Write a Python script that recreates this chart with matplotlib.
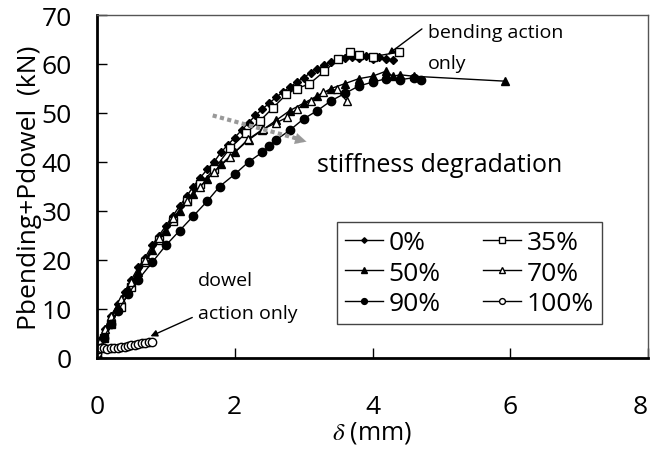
import matplotlib.pyplot as plt

# load-displacement data (delta in mm, P in kN)
d_0 = [0.0, 0.03, 0.07, 0.12, 0.2, 0.3, 0.4, 0.5, 0.6, 0.7, 0.8, 0.9, 1.0, 1.1, 1.2, 1.3, 1.4, 1.5,
       1.6, 1.7, 1.8, 1.9, 2.0, 2.1, 2.2, 2.3, 2.4, 2.5, 2.6, 2.7, 2.8, 2.9, 3.0, 3.1, 3.2, 3.3,
       3.4, 3.5, 3.6, 3.7, 3.8, 3.9, 4.0, 4.1, 4.2, 4.3]
p_0 = [0.5, 2, 4, 6, 8.5, 11, 13.5, 16, 18.5, 20.5, 23, 25, 27, 29, 31, 33, 35, 36.8,
       38.5, 40, 42, 43.5, 45, 46.5, 48, 49.5, 50.8, 52, 53.2, 54.3, 55.3, 56.3, 57.2, 58.2, 59, 59.8,
       60.5, 61, 61.3, 61.5, 61.3, 61.6, 61, 61.5, 61, 60.8]

d_35 = [0.0, 0.1, 0.2, 0.35, 0.5, 0.7, 0.9, 1.1, 1.3, 1.5, 1.7, 1.93, 2.17, 2.36, 2.55, 2.75, 2.9,
        3.08, 3.3, 3.5, 3.68, 3.8, 4.0, 4.38]
p_35 = [1, 4, 7, 10.5, 14.5, 19.5, 24, 28, 32, 35.5, 38.5, 42.8, 46, 48.3, 51, 53.8, 55,
        55.9, 58.5, 61, 62.4, 61.8, 61.5, 62.4]

d_50 = [0.0, 0.05, 0.1, 0.2, 0.3, 0.45, 0.6, 0.8, 1.0, 1.2, 1.4, 1.6, 1.8, 2.0, 2.2, 2.4, 2.6,
        2.8, 3.0, 3.2, 3.4, 3.6, 3.8, 4.0, 4.19, 4.3, 4.4, 4.6, 5.92]
p_50 = [0.5, 3, 5, 8, 10.5, 14, 17.5, 22, 26, 30, 33.5, 36.5, 39.5, 42, 44.5, 46.5, 48.5,
        50.5, 52, 53.5, 55, 56, 57, 57.5, 58.5, 57.5, 57.8, 57.5, 56.5]

d_70 = [0.0, 0.05, 0.12, 0.2, 0.35, 0.5, 0.7, 0.9, 1.1, 1.3, 1.5, 1.7, 1.93, 2.19, 2.41, 2.6,
        2.76, 2.9, 3.1, 3.28, 3.48, 3.63]
p_70 = [1, 3.5, 6, 8.5, 12, 15.5, 20, 24.5, 28.5, 32, 35, 38, 41, 44.6, 46.7, 48,
        49.1, 50.8, 52.5, 54.2, 54.8, 52.4]

d_90 = [0.0, 0.05, 0.1, 0.2, 0.3, 0.45, 0.6, 0.8, 1.0, 1.2, 1.4, 1.6, 1.78, 2.0, 2.2, 2.4, 2.5,
        2.6, 2.8, 3.0, 3.2, 3.4, 3.6, 3.8, 4.0, 4.2, 4.4, 4.6, 4.7]
p_90 = [0.3, 2, 4, 7, 9.5, 13, 16, 19.5, 23, 26, 29, 32, 35, 37.5, 40, 42, 43.2,
        44.5, 46.5, 48.8, 50.5, 52.5, 54, 55.5, 56.3, 57, 56.8, 57.2, 56.8]

d_100 = [0.0, 0.02, 0.06, 0.1, 0.15, 0.2, 0.25, 0.3, 0.35, 0.4, 0.45, 0.5, 0.55, 0.6, 0.65, 0.7, 0.75, 0.8]
p_100 = [1.0, 1.8, 2.0, 2.0, 1.9, 2.0, 2.0, 2.1, 2.2, 2.3, 2.4, 2.6, 2.7, 2.9, 3.0, 3.1, 3.2, 3.3]

plt.rcParams['font.family'] = ['Open Sans', 'DejaVu Sans']
plt.rcParams['mathtext.fontset'] = 'stix'

fig = plt.figure(figsize=(6.53, 4.52), dpi=100)
ax = fig.add_axes([97 / 653, 1 - 359 / 452, 551 / 653, 343 / 452])

ms = 5
l0, = ax.plot(d_0, p_0, '-', color='k', lw=1, marker='D', ms=ms - 1, mfc='k', mec='k', label='0%')
l35, = ax.plot(d_35, p_35, '-', color='k', lw=1, marker='s', ms=ms + 1, mfc='white', mec='k', label='35%')
l50, = ax.plot(d_50, p_50, '-', color='k', lw=1, marker='^', ms=ms + 1, mfc='k', mec='k', label='50%')
l70, = ax.plot(d_70, p_70, '-', color='k', lw=1, marker='^', ms=ms + 1, mfc='white', mec='k', label='70%')
l90, = ax.plot(d_90, p_90, '-', color='k', lw=1, marker='o', ms=ms + 1, mfc='k', mec='k', label='90%')
l100, = ax.plot(d_100, p_100, '-', color='k', lw=1, marker='o', ms=ms + 1, mfc='white', mec='k', label='100%')

ax.set_xlim(0, 8)
ax.set_ylim(0, 70)
ax.set_xticks([0, 2, 4, 6, 8])
ax.set_yticks(range(0, 71, 10))
ax.tick_params(direction='in', length=7, width=1, labelsize=19)
ax.tick_params(axis='x', pad=26)
ax.tick_params(axis='y', pad=18)
ax.get_xticklabels()[-1].set_ha('right')
for s in ['left', 'bottom']:
    ax.spines[s].set_linewidth(2)
for s in ['top', 'right']:
    ax.spines[s].set_linewidth(1)
    ax.spines[s].set_color('#555555')

ax.set_xlabel(r'$\delta$ (mm)', fontsize=18, labelpad=0)
ax.set_ylabel('Pbending+Pdowel  (kN)', fontsize=19, labelpad=0)

leg = ax.legend([l0, l50, l90, l35, l70, l100], ['0%', '50%', '90%', '35%', '70%', '100%'],
                ncol=2, loc='lower right', bbox_to_anchor=(0.94, 0.061), fontsize=19,
                frameon=True, fancybox=False, edgecolor='#444444', framealpha=1,
                handlelength=1.45, handletextpad=0.2, columnspacing=1.6,
                labelspacing=0.2, borderpad=0.3, markerscale=0.7)
leg.get_frame().set_linewidth(1)

ax.text(4.8, 66.5, 'bending action', fontsize=14, va='center', ha='left')
ax.text(4.8, 60.3, 'only', fontsize=14, va='center', ha='left')
ax.annotate('', xy=(4.19, 61.6), xytext=(4.75, 67.5),
            arrowprops=dict(arrowstyle='-|>', color='k', lw=1, mutation_scale=10))

ax.text(1.46, 16, 'dowel', fontsize=14, va='center', ha='left')
ax.text(1.46, 9.2, 'action only', fontsize=14, va='center', ha='left')
ax.annotate('', xy=(0.74, 4.2), xytext=(1.42, 8.5),
            arrowprops=dict(arrowstyle='-|>', color='k', lw=1, mutation_scale=10))

# gray dotted arrow for stiffness degradation
ax.plot([1.68, 2.9], [49.5, 44.8], color='#999999', lw=3, ls=(0, (1, 0.8)))
ax.annotate('', xy=(3.08, 44), xytext=(2.7, 45.5),
            arrowprops=dict(arrowstyle='-|>', color='#999999', lw=0.1, mutation_scale=20))
ax.text(3.19, 39.5, 'stiffness degradation', fontsize=18, va='center', ha='left')

fig.savefig('out.png', dpi=100)
